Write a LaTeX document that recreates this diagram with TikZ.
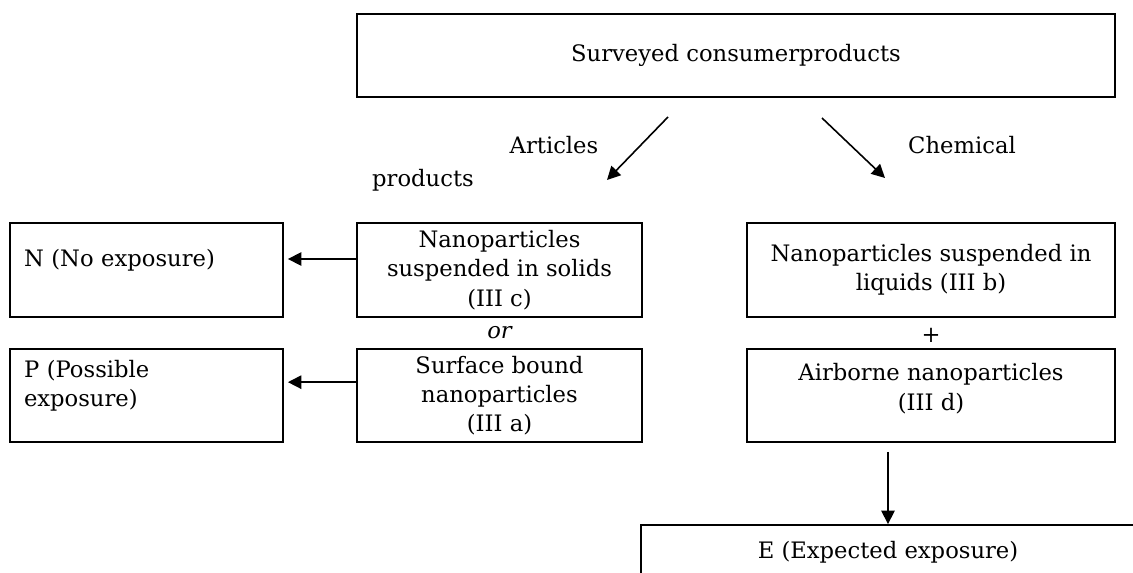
\documentclass[tikz,border=0pt]{standalone}
\usepackage{fontspec}
\setmainfont{DejaVu Serif}
\usetikzlibrary{arrows.meta,calc}
\newcommand{\px}{0.75pt}

\begin{document}
\begin{tikzpicture}[x=0.75pt, y=-0.75pt,
    font=\fontsize{17}{22}\selectfont,
    box/.style={draw, line width=1.4pt, inner sep=0pt, align=center},
    sidebox/.style={box, align=left, text width=183.75pt, text depth=18pt},
    arr/.style={-{Triangle[length=10pt,width=10pt]}, line width=1.2pt}]
    \useasboundingbox (0,0) rectangle (1133,573);
    \clip (0,0) rectangle (1133,573);
    % top box
    \node[box, minimum width=758*\px, minimum height=83*\px] (survey) at (736,55.5) {Surveyed consumerproducts};
    \node (art) at (554,145) {Articles};
    \node (prod) at (423,180) {products};
    \node (chem) at (962,145) {Chemical};
    \coordinate (a1) at (668,117);
    \coordinate (a2) at (607,180);
    \coordinate (c1) at (822,118);
    \coordinate (c2) at (885,178);
    \draw[arr] (a1) -- (a2);
    \draw[arr] (c1) -- (c2);
    % articles column
    \node[box, minimum width=285*\px, minimum height=94*\px] (susp) at (499.5,270) {Nanoparticles\\suspended in solids\\(III c)};
    \node (or) at (499.5,333) {\itshape or};
    \node[box, minimum width=285*\px, minimum height=93*\px] (surf) at (499.5,395.5) {Surface bound\\nanoparticles\\(III a)};
    % exposure classes
    \node[sidebox, minimum width=273*\px, minimum height=94*\px] (nobox) at (146.5,270) {N (No exposure)};
    \node[sidebox, text depth=39.75pt, minimum width=273*\px, minimum height=93*\px] (pbox) at (146.5,395.5) {P (Possible\\exposure)};
    \coordinate (n1) at ([yshift=8.25pt]susp.west);
    \coordinate (p1) at ([yshift=10pt]surf.west);
    \draw[arr] (n1) -- ($(n1 -| nobox.east)+(4,0)$);
    \draw[arr] (p1) -- ($(p1 -| pbox.east)+(4,0)$);
    % chemical column
    \node[box, minimum width=368*\px, minimum height=94*\px] (liq) at (931,270) {Nanoparticles suspended in\\liquids (III b)};
    \node (plus) at (931,335) {+};
    \node[box, text depth=13pt, minimum width=368*\px, minimum height=93*\px] (air) at (931,395.5) {Airborne nanoparticles\\(III d)};
    \node[box, minimum width=494*\px, minimum height=54*\px] (exp) at (888,552) {E (Expected exposure)};
    \draw[arr] ($(air.south -| exp.north)+(0,9)$) -- (exp.north);
\end{tikzpicture}
\end{document}
